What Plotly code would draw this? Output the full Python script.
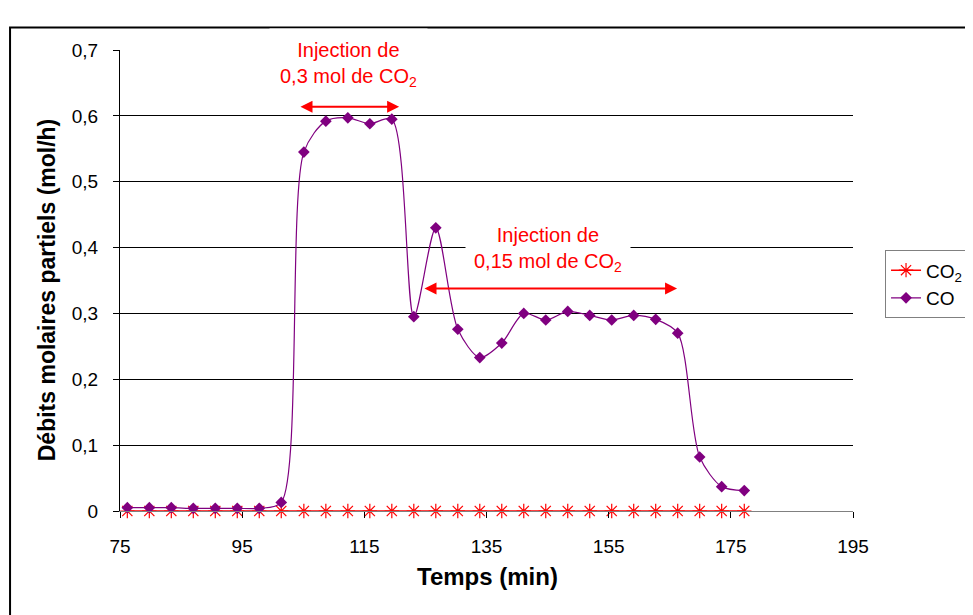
import plotly.graph_objects as go

# temps (min) et débits molaires (mol/h)
temps = [76.2, 79.8, 83.4, 87.0, 90.6, 94.2, 97.8, 101.4, 105.1, 108.7,
         112.3, 115.9, 119.5, 123.1, 126.7, 130.3, 133.9, 137.5, 141.1, 144.7,
         148.3, 151.9, 155.5, 159.1, 162.7, 166.3, 169.9, 173.5, 177.2]
co2 = [0] * 29
co = [0.005, 0.005, 0.005, 0.004, 0.004, 0.004, 0.004, 0.013, 0.545, 0.592,
      0.597, 0.588, 0.595, 0.295, 0.430, 0.276, 0.233, 0.255, 0.300, 0.290,
      0.303, 0.297, 0.290, 0.297, 0.291, 0.270, 0.082, 0.037, 0.031]

x_ticks = [75, 95, 115, 135, 155, 175, 195]
y_ticks = [0, 0.1, 0.2, 0.3, 0.4, 0.5, 0.6, 0.7]
y_labels = ["0", "0,1", "0,2", "0,3", "0,4", "0,5", "0,6", "0,7"]

police = "Liberation Sans, Arial, sans-serif"
rouge = "#ff0000"
violet = "#800080"

fig = go.Figure()
fig.add_trace(go.Scatter(x=temps, y=co2, name="CO<sub>2</sub>", mode="lines+markers",
                         line=dict(color=rouge, width=1.5),
                         marker=dict(symbol="asterisk-open", size=12, color=rouge,
                                     line=dict(color=rouge, width=1.2)),
                         cliponaxis=False))
fig.add_trace(go.Scatter(x=temps, y=co, name="CO", mode="lines+markers",
                         line=dict(color=violet, width=1.2, shape="spline", smoothing=0.8),
                         marker=dict(symbol="diamond", size=9, color=violet),
                         cliponaxis=False))

# flèches d'injection
fig.add_annotation(x=120.7, y=0.614, ax=104.3, ay=0.614, xref="x", yref="y",
                   axref="x", ayref="y", text="", showarrow=True,
                   arrowhead=2, startarrowhead=2, arrowside="end+start",
                   arrowsize=1.2, arrowwidth=2, arrowcolor=rouge)
fig.add_annotation(x=166.2, y=0.338, ax=124.6, ay=0.338, xref="x", yref="y",
                   axref="x", ayref="y", text="", showarrow=True,
                   arrowhead=2, startarrowhead=2, arrowside="end+start",
                   arrowsize=1.2, arrowwidth=2, arrowcolor=rouge)

fig.add_annotation(x=112.4, y=0.678, xref="x", yref="y", showarrow=False,
                   text="Injection de<br>0,3 mol de CO<sub>2</sub>",
                   font=dict(family=police, size=20, color=rouge),
                   bgcolor="white", borderpad=10)
fig.add_annotation(x=145.1, y=0.397, xref="x", yref="y", showarrow=False,
                   text="Injection de<br>0,15 mol de CO<sub>2</sub>",
                   font=dict(family=police, size=20, color=rouge),
                   bgcolor="white", borderpad=8)

# titres des axes
fig.add_annotation(x=0.5007, y=-0.143, xref="paper", yref="paper", showarrow=False,
                   xanchor="center", yanchor="middle",
                   text="<b>Temps (min)</b>", font=dict(family=police, size=24))
fig.add_annotation(x=-0.0996, y=0.481, xref="paper", yref="paper", showarrow=False,
                   xanchor="center", yanchor="middle",
                   text="<b>Débits molaires partiels (mol/h)</b>", textangle=-90,
                   font=dict(family=police, size=23))

# cadre du graphique
fig.add_shape(type="rect", xref="paper", yref="paper",
              x0=-0.150, x1=1.3, y0=-0.5, y1=1.0488,
              line=dict(color="black", width=2), layer="below")

fig.update_layout(
    width=965, height=607,
    margin=dict(l=112, r=120, t=42, b=104, autoexpand=False),
    paper_bgcolor="white", plot_bgcolor="white",
    font=dict(family=police, size=19, color="black"),
    legend=dict(x=1.0437, y=0.5655, xanchor="left", yanchor="top",
                bordercolor="#808080", borderwidth=1, bgcolor="white",
                font=dict(size=19), itemwidth=30, tracegroupgap=0),
    xaxis=dict(range=[75, 195], tickvals=x_ticks, showgrid=False,
               showline=True, linecolor="#808080", linewidth=1,
               ticks="outside", ticklen=6, tickcolor="black",
               ticklabelstandoff=12, zeroline=False),
    yaxis=dict(range=[0, 0.7], tickvals=y_ticks, ticktext=y_labels,
               showgrid=True, gridcolor="black", gridwidth=1,
               showline=True, linecolor="black", linewidth=1,
               ticks="outside", ticklen=6, tickcolor="black",
               ticklabelstandoff=11, zeroline=False),
)

fig.write_html("out.html")
